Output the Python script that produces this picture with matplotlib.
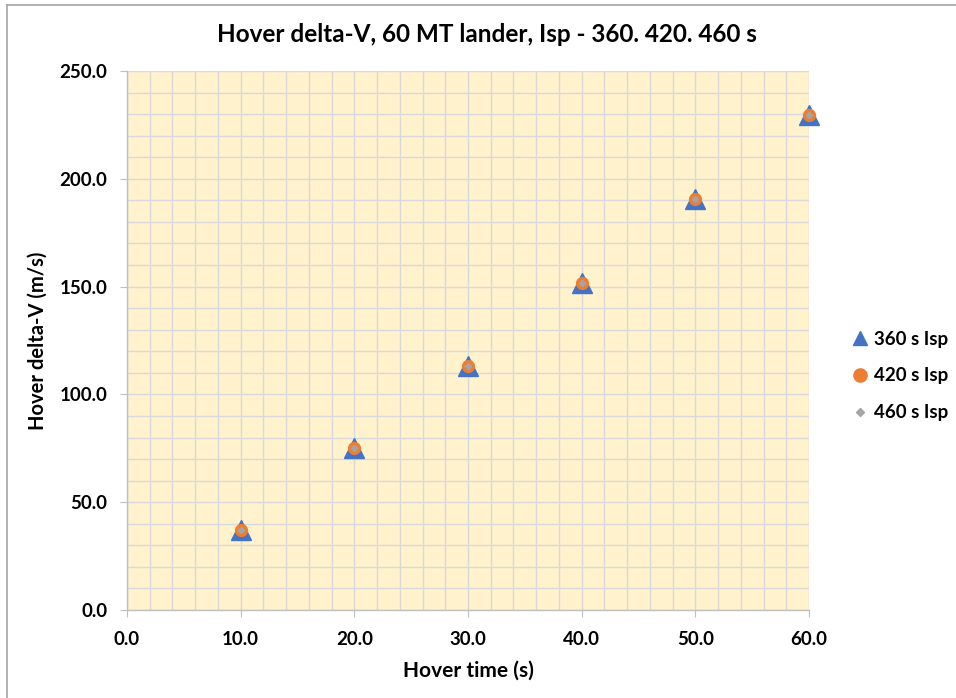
import matplotlib
matplotlib.use('Agg')
import matplotlib.pyplot as plt
from matplotlib.lines import Line2D
from matplotlib.ticker import MultipleLocator, FormatStrFormatter

plt.rcParams['font.family'] = ['Lato', 'DejaVu Sans']
plt.rcParams['font.weight'] = 'bold'

# hover time (s) and hover delta-V (m/s)
hover_time = [10, 20, 30, 40, 50, 60]
dv_360 = [37.3, 75.0, 113.2, 151.7, 190.5, 229.7]
dv_420 = [37.3, 75.0, 113.2, 151.7, 190.5, 229.7]
dv_460 = [37.3, 75.0, 113.2, 151.7, 190.5, 229.7]
labels = ['360 s Isp', '420 s Isp', '460 s Isp']

blue = '#4472c4'
orange = '#ed7d31'
grey = '#a5a5a5'

fig = plt.figure(figsize=(9.56, 6.98), dpi=100)
ax = fig.add_axes([127 / 956, 1 - 610 / 698, (809 - 127) / 956, (610 - 71) / 698])
ax.set_facecolor('#fff2cc')

ax.plot(hover_time, dv_360, '^', color=blue, ms=14.5, clip_on=False, zorder=3)
ax.plot(hover_time, dv_420, 'o', color=orange, ms=8.5, clip_on=False, zorder=4)
ax.plot(hover_time, dv_460, 'D', color=grey, ms=3.2, clip_on=False, zorder=5)

ax.set_xlim(0, 60)
ax.set_ylim(0, 250)
ax.xaxis.set_major_locator(MultipleLocator(10))
ax.xaxis.set_minor_locator(MultipleLocator(2))
ax.yaxis.set_major_locator(MultipleLocator(50))
ax.yaxis.set_minor_locator(MultipleLocator(10))
ax.xaxis.set_major_formatter(FormatStrFormatter('%.1f'))
ax.yaxis.set_major_formatter(FormatStrFormatter('%.1f'))

ax.grid(True, which='both', color='#d9d9d9', lw=1, zorder=0)
ax.set_axisbelow(True)
for s in ['top', 'right']:
    ax.spines[s].set_visible(False)
for s in ['left', 'bottom']:
    ax.spines[s].set_color('#bfbfbf')
    ax.spines[s].set_linewidth(1)

ax.tick_params(axis='y', which='major', direction='out', length=5, color='#bfbfbf',
               labelsize=13.5, pad=9)
ax.tick_params(axis='x', which='major', direction='out', length=5, color='#bfbfbf',
               labelsize=13.5, pad=10)
ax.tick_params(which='minor', length=0)
for t in ax.get_xticklabels() + ax.get_yticklabels():
    t.set_fontweight('bold')

ax.set_xlabel('Hover time (s)', fontsize=15, fontweight='bold', labelpad=9)
ax.set_ylabel('Hover delta-V (m/s)', fontsize=14.5, fontweight='bold', labelpad=9)

fig.text(487 / 956, 1 - 34 / 698, 'Hover delta-V, 60 MT lander, Isp - 360. 420. 460 s',
         ha='center', va='center', fontsize=17.5, fontweight='bold')

handles = [
    Line2D([], [], ls='none', marker='^', color=blue, ms=10.5),
    Line2D([], [], ls='none', marker='o', color=orange, ms=9.5),
    Line2D([], [], ls='none', marker='D', color=grey, ms=3.8),
]
fig.legend(handles, labels, loc='center left', bbox_to_anchor=(852 / 956, 1 - 376 / 698),
           frameon=False, fontsize=13.5, labelspacing=1.05, handlelength=0.8,
           handletextpad=0.35, borderpad=0, borderaxespad=0)

# chart-area border remnants (left and top)
fig.add_artist(Line2D([7 / 956, 7 / 956], [0, 1 - 5 / 698], color='#a6a6a6', lw=1.2))
fig.add_artist(Line2D([7 / 956, 1], [1 - 5 / 698, 1 - 5 / 698], color='#a6a6a6', lw=1.2))

fig.savefig('out.png', dpi=100)
